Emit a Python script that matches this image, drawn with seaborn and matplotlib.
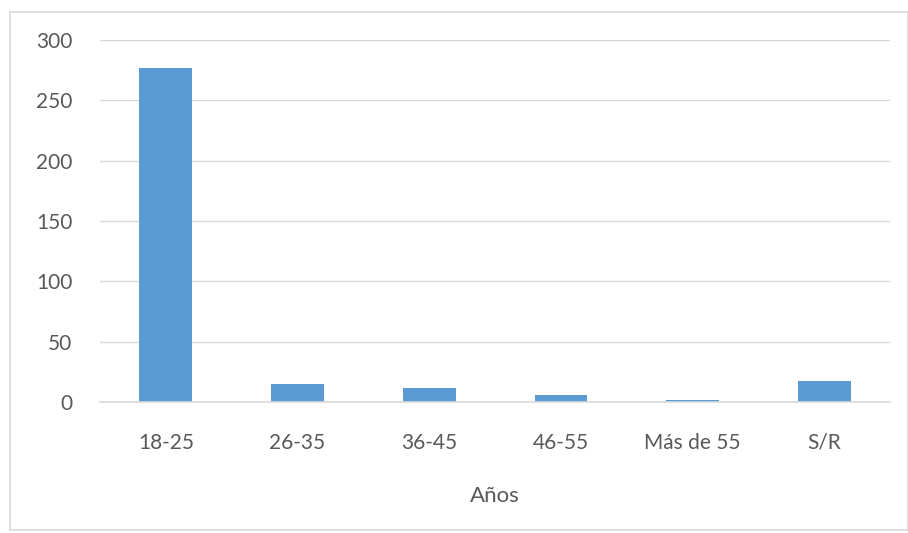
import matplotlib
matplotlib.use("Agg")
import matplotlib.pyplot as plt
import seaborn as sns
import pandas as pd
from matplotlib.patches import Rectangle

categories = ["18-25", "26-35", "36-45", "46-55", "Más de 55", "S/R"]
values = [277, 15, 12, 6, 2, 17]
yticks = [0, 50, 100, 150, 200, 250, 300]

df = pd.DataFrame({"cat": categories, "val": values})

sns.set_theme(style="white")
plt.rcParams['font.family'] = ['Lato', 'DejaVu Sans']

W, H = 908, 533
fig = plt.figure(figsize=(W/100, H/100), dpi=100)
ax = fig.add_axes([100/W, (H-402)/H, 790/W, 362/H])

sns.barplot(data=df, x="cat", y="val", color="#5B9BD5", saturation=1, width=0.4,
            linewidth=0, ax=ax)

ax.set_ylim(0, 300)
ax.set_yticks(yticks)
ax.set_yticklabels([str(t) for t in yticks])
ax.yaxis.grid(True, color="#D9D9D9", linewidth=1)
ax.set_axisbelow(True)
for s in ["top", "right", "left"]:
    ax.spines[s].set_visible(False)
ax.spines["bottom"].set_color("#D9D9D9")
ax.spines["bottom"].set_linewidth(1.2)
ax.tick_params(axis="y", length=0, pad=20, labelsize=15, labelcolor="#595959")
ax.tick_params(axis="x", length=0, pad=22, labelsize=15, labelcolor="#595959")
ax.set_xlabel("Años", fontsize=16, color="#595959", labelpad=24)
ax.set_ylabel("")

fig.patches.append(Rectangle((10/W, 3/H), (W-10)/W, (H-15)/H, transform=fig.transFigure,
                             fill=False, edgecolor="#D9D9D9", linewidth=1.2))

fig.savefig("out.png", dpi=100)
